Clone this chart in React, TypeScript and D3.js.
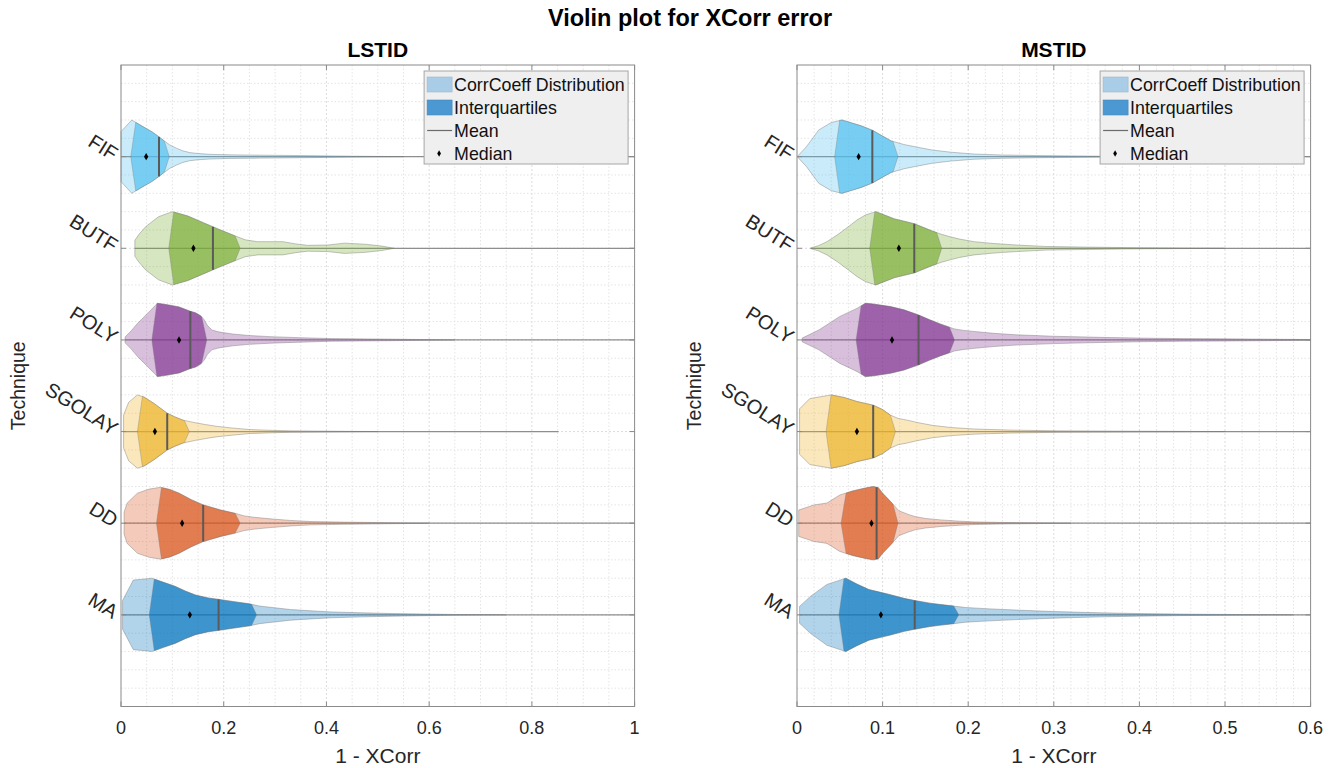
import { useEffect, useRef } from 'react';
import * as d3 from 'd3';

// categories, bottom (y = 1) to top (y = 6)
const techniques = ['MA', 'DD', 'SGOLAY', 'POLY', 'BUTF', 'FIF'];
const techniqueColors = ['#0072BD', '#D95319', '#EDB120', '#7E2F8E', '#77AC30', '#4DBEEE'];

// kde outlines: [1 - XCorr, half width relative to widest violin]
const lstidMA = [[0.003, 0.39], [0.024, 0.95], [0.04, 0.97], [0.06, 1.0], [0.08, 0.9], [0.105, 0.78], [0.125, 0.65], [0.145, 0.54], [0.17, 0.46], [0.191, 0.42], [0.22, 0.36], [0.25, 0.3], [0.27, 0.24], [0.282, 0.22], [0.33, 0.145], [0.37, 0.11], [0.41, 0.08], [0.47, 0.055], [0.53, 0.036], [0.65, 0.01], [0.75, 0]];
const lstidDD = [[0.006, 0.3], [0.012, 0.55], [0.032, 0.82], [0.055, 0.93], [0.077, 0.98], [0.095, 0.92], [0.113, 0.82], [0.137, 0.64], [0.16, 0.5], [0.194, 0.36], [0.222, 0.27], [0.24, 0.2], [0.26, 0.16], [0.29, 0.12], [0.33, 0.075], [0.37, 0.045], [0.43, 0.03], [0.49, 0.02], [0.6, 0]];
const lstidSGOLAY = [[0.005, 0.45], [0.015, 0.8], [0.032, 1.0], [0.045, 0.94], [0.065, 0.76], [0.09, 0.5], [0.105, 0.4], [0.121, 0.31], [0.135, 0.27], [0.145, 0.24], [0.165, 0.19], [0.185, 0.145], [0.215, 0.1], [0.25, 0.055], [0.29, 0.035], [0.33, 0.02], [0.45, 0.005], [0.5, 0]];
const lstidPOLY = [[0.008, 0.08], [0.02, 0.25], [0.032, 0.45], [0.052, 0.73], [0.071, 1.0], [0.09, 0.96], [0.113, 0.9], [0.135, 0.78], [0.145, 0.74], [0.155, 0.66], [0.162, 0.55], [0.168, 0.4], [0.177, 0.27], [0.19, 0.22], [0.218, 0.16], [0.25, 0.12], [0.29, 0.09], [0.35, 0.06], [0.41, 0.036], [0.53, 0.02], [0.65, 0]];
const lstidBUTF = [[0.027, 0.22], [0.035, 0.38], [0.048, 0.59], [0.073, 0.86], [0.1, 1.0], [0.13, 0.88], [0.16, 0.7], [0.19, 0.52], [0.22, 0.35], [0.242, 0.23], [0.266, 0.18], [0.315, 0.18], [0.34, 0.12], [0.363, 0.08], [0.403, 0.09], [0.435, 0.14], [0.476, 0.11], [0.508, 0.06], [0.532, 0]];
const lstidFIF = [[0, 0.68], [0.021, 1.0], [0.04, 0.84], [0.06, 0.68], [0.073, 0.55], [0.085, 0.42], [0.095, 0.32], [0.108, 0.23], [0.12, 0.16], [0.134, 0.11], [0.15, 0.085], [0.173, 0.064], [0.21, 0.05], [0.27, 0.04], [0.37, 0.027], [0.45, 0.012], [0.55, 0]];

const mstidMA = [[0.003, 0.23], [0.016, 0.51], [0.035, 0.83], [0.057, 1.0], [0.07, 0.84], [0.084, 0.69], [0.1, 0.6], [0.109, 0.55], [0.125, 0.45], [0.1375, 0.39], [0.155, 0.32], [0.168, 0.28], [0.183, 0.24], [0.197, 0.2], [0.22, 0.17], [0.256, 0.13], [0.3, 0.09], [0.355, 0.055], [0.4, 0.035], [0.45, 0.02], [0.52, 0.008], [0.58, 0]];
const mstidDD = [[0.002, 0.36], [0.02, 0.5], [0.035, 0.55], [0.05, 0.77], [0.065, 0.88], [0.08, 0.96], [0.089, 1.0], [0.095, 0.97], [0.1, 0.82], [0.109, 0.6], [0.119, 0.34], [0.13, 0.24], [0.138, 0.18], [0.15, 0.13], [0.168, 0.09], [0.19, 0.055], [0.207, 0.036], [0.24, 0.02], [0.28, 0.01], [0.32, 0]];
const mstidSGOLAY = [[0.003, 0.62], [0.015, 0.9], [0.04, 1.0], [0.055, 0.93], [0.07, 0.82], [0.089, 0.72], [0.1, 0.6], [0.109, 0.45], [0.118, 0.36], [0.129, 0.31], [0.14, 0.25], [0.158, 0.17], [0.18, 0.11], [0.207, 0.07], [0.25, 0.04], [0.305, 0.02], [0.4, 0.01], [0.5, 0]];
const mstidPOLY = [[0.006, 0.05], [0.0255, 0.27], [0.05, 0.64], [0.07, 0.86], [0.08, 1.0], [0.089, 0.98], [0.109, 0.91], [0.125, 0.82], [0.142, 0.68], [0.155, 0.55], [0.168, 0.43], [0.184, 0.3], [0.195, 0.26], [0.207, 0.23], [0.23, 0.18], [0.256, 0.14], [0.3, 0.1], [0.355, 0.07], [0.4, 0.05], [0.45, 0.036], [0.5, 0.03], [0.55, 0.02], [0.6, 0.01]];
const mstidBUTF = [[0.016, 0.01], [0.025, 0.07], [0.035, 0.18], [0.048, 0.38], [0.06, 0.59], [0.07, 0.77], [0.08, 0.91], [0.092, 1.0], [0.114, 0.8], [0.137, 0.67], [0.158, 0.47], [0.169, 0.38], [0.178, 0.32], [0.19, 0.25], [0.207, 0.18], [0.23, 0.13], [0.256, 0.09], [0.29, 0.05], [0.33, 0.035], [0.4, 0.015], [0.5, 0]];
const mstidFIF = [[0.001, 0.02], [0.011, 0.27], [0.0255, 0.73], [0.04, 0.93], [0.0525, 1.0], [0.075, 0.84], [0.088, 0.72], [0.1, 0.56], [0.11, 0.43], [0.125, 0.33], [0.14, 0.26], [0.158, 0.18], [0.18, 0.12], [0.207, 0.07], [0.24, 0.045], [0.28, 0.03], [0.355, 0.012], [0.45, 0]];

// summary statistics, same order as techniques
const lstidQ1 = [0.055, 0.069, 0.032, 0.06, 0.093, 0.019];
const lstidQ3 = [0.264, 0.232, 0.133, 0.167, 0.232, 0.094];
const lstidMean = [0.19, 0.16, 0.09, 0.135, 0.179, 0.074];
const lstidMedian = [0.134, 0.119, 0.066, 0.113, 0.141, 0.049];
const lstidLow = [0.003, 0.006, 0.005, 0.008, 0.027, 0];
const lstidHigh = [1, 1, 0.852, 1, 1, 1];

const mstidQ1 = [0.049, 0.0515, 0.034, 0.069, 0.085, 0.044];
const mstidQ3 = [0.189, 0.118, 0.115, 0.184, 0.169, 0.118];
const mstidMean = [0.1375, 0.093, 0.089, 0.142, 0.137, 0.088];
const mstidMedian = [0.098, 0.087, 0.07, 0.111, 0.119, 0.072];
const mstidLow = [0.003, 0.002, 0.003, 0.006, 0.016, 0.001];
const mstidHigh = [0.6, 0.6, 0.6, 0.6, 0.6, 0.6];

const lstidTicks = [0, 0.2, 0.4, 0.6, 0.8, 1];
const mstidTicks = [0, 0.1, 0.2, 0.3, 0.4, 0.5, 0.6];

const legendLabels = ['CorrCoeff Distribution', 'Interquartiles', 'Mean', 'Median'];

const FONT = "'Liberation Sans', Arial, Helvetica, sans-serif";
const TEXT = '#262626';

const panels = [
  {
    title: 'LSTID', left: 121, xMax: 1, ticks: lstidTicks, minorStep: 0.05,
    profiles: [lstidMA, lstidDD, lstidSGOLAY, lstidPOLY, lstidBUTF, lstidFIF],
    q1: lstidQ1, q3: lstidQ3, mean: lstidMean, median: lstidMedian, low: lstidLow, high: lstidHigh,
  },
  {
    title: 'MSTID', left: 797, xMax: 0.6, ticks: mstidTicks, minorStep: 0.02,
    profiles: [mstidMA, mstidDD, mstidSGOLAY, mstidPOLY, mstidBUTF, mstidFIF],
    q1: mstidQ1, q3: mstidQ3, mean: mstidMean, median: mstidMedian, low: mstidLow, high: mstidHigh,
  },
];

const plotW = 513.6;
const plotTop = 65;
const plotBottom = 706.5;

function widthAt(profile: number[][], v: number) {
  if (v <= profile[0][0]) return profile[0][1];
  for (let i = 1; i < profile.length; i++) {
    if (v <= profile[i][0]) {
      const [v0, w0] = profile[i - 1];
      const [v1, w1] = profile[i];
      return w0 + ((v - v0) / (v1 - v0)) * (w1 - w0);
    }
  }
  return profile[profile.length - 1][1];
}

function drawPanel(root: any, p: any) {
  const x = d3.scaleLinear().domain([0, p.xMax]).range([p.left, p.left + plotW]);
  const y = d3.scaleLinear().domain([0, 7]).range([plotBottom, plotTop]);
  const half = 0.4; // widest violin half width in y units
  const right = p.left + plotW;
  const g = root.append('g');

  // grid
  const isMajorX = (v: number) => p.ticks.some((t: number) => Math.abs(t - v) < 1e-6);
  const minorX = d3.range(p.minorStep, p.xMax - 1e-6, p.minorStep).filter((v: number) => !isMajorX(v));
  const minorY = d3.range(0.2, 6.99, 0.2).filter((v: number) => Math.abs(v - Math.round(v)) > 1e-6);
  g.selectAll('.minorx').data(minorX).enter().append('line')
    .attr('x1', (d: number) => x(d)).attr('x2', (d: number) => x(d))
    .attr('y1', plotTop).attr('y2', plotBottom)
    .attr('stroke', '#e4e4e4').attr('stroke-dasharray', '1.5,2');
  g.selectAll('.minory').data(minorY).enter().append('line')
    .attr('x1', p.left).attr('x2', right)
    .attr('y1', (d: number) => y(d)).attr('y2', (d: number) => y(d))
    .attr('stroke', '#e4e4e4').attr('stroke-dasharray', '1.5,2');
  g.selectAll('.majorx').data(p.ticks.slice(1, -1)).enter().append('line')
    .attr('x1', (d: number) => x(d)).attr('x2', (d: number) => x(d))
    .attr('y1', plotTop).attr('y2', plotBottom)
    .attr('stroke', '#dcdcdc').attr('stroke-dasharray', '2,2');
  g.selectAll('.majory').data(d3.range(1, 7)).enter().append('line')
    .attr('x1', p.left).attr('x2', right)
    .attr('y1', (d: number) => y(d)).attr('y2', (d: number) => y(d))
    .attr('stroke', '#dcdcdc').attr('stroke-dasharray', '2,2');

  const tipInset = x.invert(p.left + 5) - x.invert(p.left);

  techniques.forEach((name, i) => {
    const pos = i + 1;
    const color = techniqueColors[i];
    const profile = p.profiles[i];

    // whisker / centre line
    g.append('line')
      .attr('x1', x(p.low[i])).attr('x2', x(Math.min(p.high[i], p.xMax)))
      .attr('y1', y(pos)).attr('y2', y(pos))
      .attr('stroke', '#8e8e8e').attr('stroke-width', 1.2);

    const area = d3.area<number[]>()
      .x((d) => x(d[0]))
      .y0((d) => y(pos - d[1] * half))
      .y1((d) => y(pos + d[1] * half));
    g.append('path').attr('d', area(profile))
      .attr('fill', color).attr('fill-opacity', 0.3)
      .attr('stroke', '#7a7a7a').attr('stroke-opacity', 0.55).attr('stroke-width', 0.8);

    const a = p.q1[i] + tipInset;
    const b = p.q3[i] - tipInset;
    const inner = [[a, widthAt(profile, a)], ...profile.filter((d: number[]) => d[0] > a && d[0] < b), [b, widthAt(profile, b)]];
    const ring = [[p.q1[i], 0], ...inner, [p.q3[i], 0], ...inner.slice().reverse().map((d) => [d[0], -d[1]])];
    const line = d3.line<number[]>().x((d) => x(d[0])).y((d) => y(pos + d[1] * half));
    g.append('path').attr('d', line(ring) + 'Z')
      .attr('fill', color).attr('fill-opacity', 0.65)
      .attr('stroke', '#7a7a7a').attr('stroke-opacity', 0.5).attr('stroke-width', 0.7);

    const wm = widthAt(profile, p.mean[i]);
    g.append('line')
      .attr('x1', x(p.mean[i])).attr('x2', x(p.mean[i]))
      .attr('y1', y(pos - wm * half)).attr('y2', y(pos + wm * half))
      .attr('stroke', '#5a5a5a').attr('stroke-width', 2);

    g.append('path')
      .attr('d', d3.symbol(d3.symbolDiamond, 16)())
      .attr('transform', `translate(${x(p.median[i])},${y(pos)})`)
      .attr('fill', '#000');

    // category label
    g.append('text')
      .attr('transform', `translate(${p.left - 6},${y(pos)}) rotate(32)`)
      .attr('text-anchor', 'end').attr('dominant-baseline', 'middle')
      .attr('font-size', 20).attr('fill', TEXT).text(name);
  });

  // box and ticks
  g.append('rect').attr('x', p.left).attr('y', plotTop).attr('width', plotW).attr('height', plotBottom - plotTop)
    .attr('fill', 'none').attr('stroke', '#8a8a8a').attr('stroke-width', 1);
  p.ticks.forEach((t: number) => {
    g.append('line').attr('x1', x(t)).attr('x2', x(t)).attr('y1', plotBottom).attr('y2', plotBottom - 5).attr('stroke', '#8a8a8a');
    g.append('line').attr('x1', x(t)).attr('x2', x(t)).attr('y1', plotTop).attr('y2', plotTop + 5).attr('stroke', '#8a8a8a');
    g.append('text').attr('x', x(t)).attr('y', plotBottom + 27).attr('text-anchor', 'middle')
      .attr('font-size', 18).attr('fill', TEXT).text(d3.format('~g')(t));
  });
  d3.range(1, 7).forEach((k: number) => {
    g.append('line').attr('x1', p.left).attr('x2', p.left + 5).attr('y1', y(k)).attr('y2', y(k)).attr('stroke', '#8a8a8a');
    g.append('line').attr('x1', right).attr('x2', right - 5).attr('y1', y(k)).attr('y2', y(k)).attr('stroke', '#8a8a8a');
  });

  const cx = p.left + plotW / 2;
  g.append('text').attr('x', cx).attr('y', 57).attr('text-anchor', 'middle')
    .attr('font-size', 21).attr('font-weight', 'bold').attr('fill', '#000').text(p.title);
  g.append('text').attr('x', cx).attr('y', 763).attr('text-anchor', 'middle')
    .attr('font-size', 21).attr('fill', TEXT).text('1 - XCorr');
  g.append('text').attr('transform', `translate(${p.left - 96},${(plotTop + plotBottom) / 2}) rotate(-90)`)
    .attr('text-anchor', 'middle').attr('font-size', 19.5).attr('fill', TEXT).text('Technique');

  // legend
  const lx = right - 210.5;
  const ly = 71;
  const lg = g.append('g');
  lg.append('rect').attr('x', lx).attr('y', ly).attr('width', 204).attr('height', 93)
    .attr('fill', '#efefef').attr('stroke', '#a6a6a6').attr('stroke-width', 1);
  const rowY = (k: number) => ly + 13.5 + k * 23;
  lg.append('rect').attr('x', lx + 3).attr('y', rowY(0) - 7.5).attr('width', 25).attr('height', 15)
    .attr('fill', '#a9cde6').attr('stroke', '#9bb7cc').attr('stroke-width', 0.6);
  lg.append('rect').attr('x', lx + 3).attr('y', rowY(1) - 7.5).attr('width', 25).attr('height', 15)
    .attr('fill', '#4b98d2').attr('stroke', '#4a88b8').attr('stroke-width', 0.6);
  lg.append('line').attr('x1', lx + 3).attr('x2', lx + 28).attr('y1', rowY(2)).attr('y2', rowY(2))
    .attr('stroke', '#6a6a6a').attr('stroke-width', 1.2);
  lg.append('path').attr('d', d3.symbol(d3.symbolDiamond, 12)())
    .attr('transform', `translate(${lx + 15},${rowY(3)})`).attr('fill', '#000');
  legendLabels.forEach((label, k) => {
    lg.append('text').attr('x', lx + 30).attr('y', rowY(k)).attr('dominant-baseline', 'central')
      .attr('font-size', 17.8).attr('fill', '#111').text(label);
  });
}

export default function App() {
  const svgRef = useRef<SVGSVGElement>(null);

  useEffect(() => {
    if (!svgRef.current) return;
    const svg = d3.select(svgRef.current);
    svg.selectAll('*').remove();
    svg.append('rect').attr('width', 1338).attr('height', 768).attr('fill', '#fff');
    svg.append('text').attr('x', 690).attr('y', 26).attr('text-anchor', 'middle')
      .attr('font-size', 23.5).attr('font-weight', 'bold').attr('fill', '#000')
      .text('Violin plot for XCorr error');
    panels.forEach((p) => drawPanel(svg, p));
  }, []);

  return (
    <svg
      ref={svgRef}
      width={1338}
      height={768}
      style={{ position: 'absolute', left: 0, top: 0, fontFamily: FONT }}
    />
  );
}
